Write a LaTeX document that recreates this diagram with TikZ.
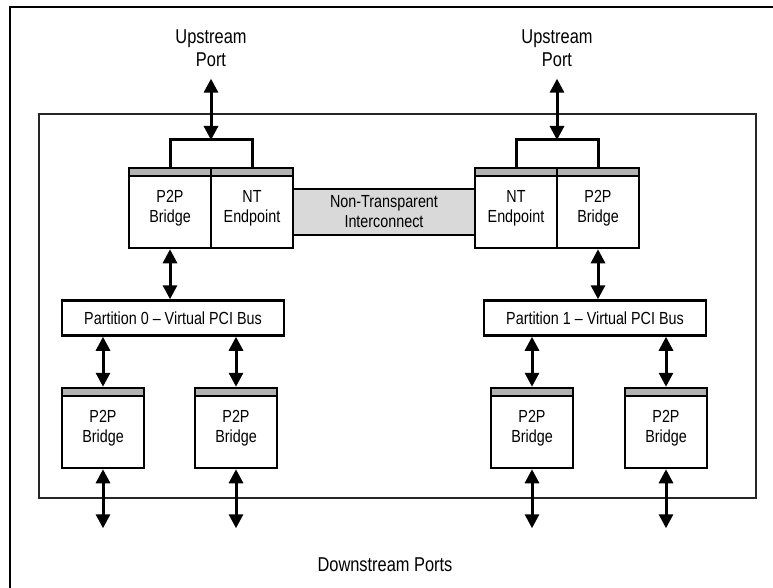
\documentclass[tikz,border=0pt]{standalone}
\usepackage{fontspec}
\setmainfont{Liberation Sans}[FakeStretch=0.82]
\usetikzlibrary{arrows.meta}
\definecolor{bargrey}{RGB}{178,178,178}
\definecolor{linkgrey}{RGB}{217,217,217}
\newcommand{\boxlbl}{\fontsize{17.5}{20}\selectfont}
\newcommand{\portlbl}{\fontsize{20}{23}\selectfont}

\begin{document}
\begin{tikzpicture}[x=1pt,y=-1pt,
    bridge/.style={draw,line width=2.5pt,fill=white,minimum width=82pt,
      minimum height=80pt,inner sep=0pt,align=center,font=\boxlbl,
      path picture={
        \fill[bargrey] (path picture bounding box.north west) rectangle
          ([yshift=-8pt]path picture bounding box.north east);
        \draw[line width=2.5pt] ([yshift=-8pt]path picture bounding box.north west)
          -- ([yshift=-8pt]path picture bounding box.north east);}},
    bus/.style={draw,line width=2.5pt,fill=white,minimum width=222pt,
      minimum height=35pt,inner sep=0pt,font=\boxlbl},
    link/.style={draw,line width=2.5pt,fill=linkgrey,minimum width=182pt,
      minimum height=46pt,inner sep=0pt,align=center,font=\boxlbl},
    port/.style={inner sep=0pt,align=center,font=\portlbl},
    dblarrow/.style={{Triangle[length=14pt,width=14pt]}-{Triangle[length=14pt,width=14pt]},
      line width=3pt},
    bracket/.style={line width=3pt}]
  \useasboundingbox (0,0) rectangle (773,588);
  % Frame
  \draw[line width=2.5pt] (10,588) -- (10,7) -- (773,7);
  \draw[black!85,line width=1.5pt] (39,114) rectangle (756,498);
  % Interconnect
  \node[link] (nti) at (384,212) {Non-Transparent\\Interconnect};
  % Upstream bridges
  \node[bridge] (lbr) at (170,208) {P2P\\Bridge};
  \node[bridge] (lep) at (252,208) {NT\\Endpoint};
  \node[bridge] (rep) at (516,208) {NT\\Endpoint};
  \node[bridge] (rbr) at (598,208) {P2P\\Bridge};
  % Upstream ports
  \node[port] (lup) at (211,48) {Upstream\\Port};
  \node[port] (rup) at (557,48) {Upstream\\Port};
  \coordinate (lbk) at (211,140);
  \coordinate (rbk) at (557,140);
  \draw[bracket] (lbr.north) |- (lbk) -| (lep.north);
  \draw[bracket] (rep.north) |- (rbk) -| (rbr.north);
  \draw[dblarrow,shorten <=12pt] (lup.south) -- (lbk);
  \draw[dblarrow,shorten <=12pt] (rup.south) -- (rbk);
  % Virtual PCI buses
  \node[bus] (part0) at (173,318) {Partition 0 -- Virtual PCI Bus};
  \node[bus] (part1) at (595,318) {Partition 1 -- Virtual PCI Bus};
  \draw[dblarrow] (lbr.south) -- (lbr.south |- part0.north);
  \draw[dblarrow] (rbr.south) -- (rbr.south |- part1.north);
  % Downstream bridges
  \foreach \nm/\x/\bus in {lb1/103/part0,lb2/236/part0,rb1/532/part1,rb2/666/part1}{
    \node[bridge] (\nm) at (\x,428) {P2P\\Bridge};
    \draw[dblarrow] (\nm.north |- \bus.south) -- (\nm.north);
    \draw[dblarrow] (\nm.south) -- ++(0,59);
  }
  \node[port] (dsp) at (385,565) {Downstream Ports};
\end{tikzpicture}
\end{document}
